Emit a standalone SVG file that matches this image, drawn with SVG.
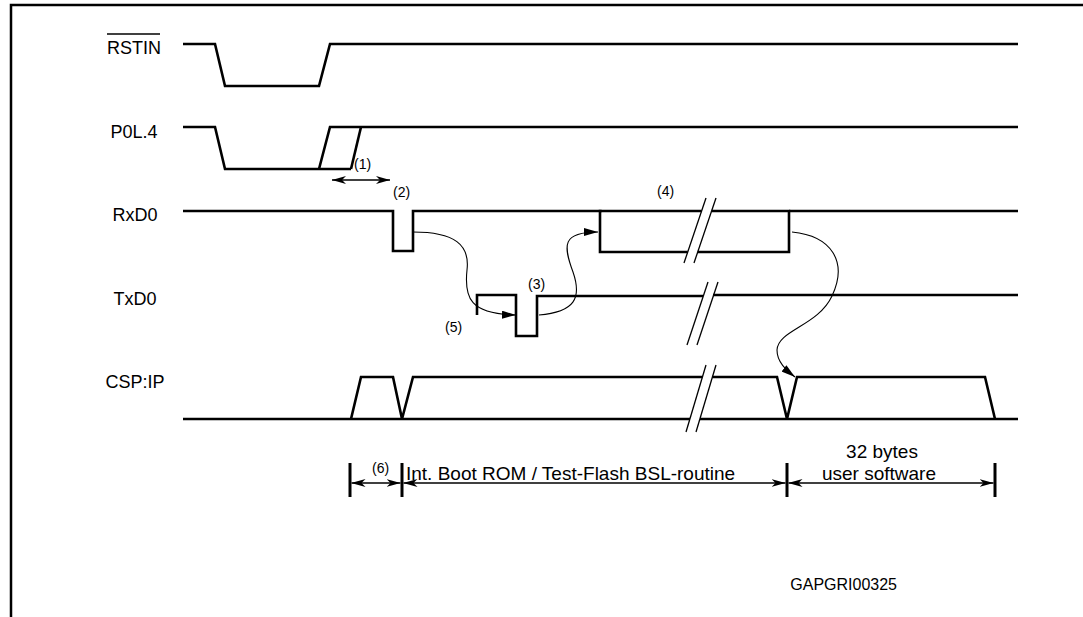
<svg xmlns="http://www.w3.org/2000/svg" width="1083" height="617" viewBox="0 0 1083 617">
<style>
.tr{fill:none;stroke:#000;stroke-width:2.6;stroke-linejoin:miter}
.sl{fill:none;stroke:#000;stroke-width:1.3}
.cv{fill:none;stroke:#000;stroke-width:1.1}
.dim{fill:none;stroke:#000;stroke-width:1.6}
.bar{stroke:#000;stroke-width:3}
.lbl{font-family:"Liberation Sans",Arial,sans-serif;font-size:18px;text-anchor:middle;fill:#000}
.sm{font-family:"Liberation Sans",Arial,sans-serif;font-size:14px;fill:#000}
.md{font-family:"Liberation Sans",Arial,sans-serif;font-size:19px;fill:#000}
</style>
<defs>
<marker id="ah" viewBox="0 0 14 8" refX="14" refY="4" markerWidth="14" markerHeight="8" markerUnits="userSpaceOnUse" orient="auto-start-reverse">
<path d="M0,0 L14,4 L0,8 L4,4 z" fill="#000"/>
</marker>
<marker id="ca" viewBox="0 0 14 8" refX="14" refY="4" markerWidth="14" markerHeight="8" markerUnits="userSpaceOnUse" orient="auto">
<path d="M0,0 L14,4 L0,8 z" fill="#000"/>
</marker>
</defs>
<rect width="1083" height="617" fill="#fff"/>
<path d="M11,617 V5 H1083" fill="none" stroke="#000" stroke-width="2.5"/>

<g id="RSTIN">
<text class="lbl" x="134" y="54">RSTIN</text>
<line x1="107" y1="34" x2="160" y2="34" stroke="#000" stroke-width="1.5"/>
<path class="tr" d="M183,44 H215 L225,86 H319 L330,44 H1018"/>
</g>

<g id="P0L4">
<text class="lbl" x="134" y="138">P0L.4</text>
<path class="tr" d="M183,127 H215 L225,169 H351"/>
<path class="tr" d="M319,169 L330,127 H1018"/>
<path class="tr" d="M351,169 L361,127"/>
<text class="sm" x="354" y="169">(1)</text>
</g>

<g id="RxD0">
<text class="lbl" x="135" y="221">RxD0</text>
<path class="tr" d="M183,211 H393 V251 H413 V211 H601.6"/>
<path class="tr" d="M701.6,211 H600 V252 H687.7"/>
<path class="tr" d="M711.6,211 H789 V252 H697.7"/>
<path class="tr" d="M789,211 H1018"/>
<line class="sl" x1="706" y1="198" x2="684" y2="263"/>
<line class="sl" x1="716" y1="198" x2="694" y2="263"/>
<text class="sm" x="393" y="197">(2)</text>
<text class="sm" x="657" y="196">(4)</text>
</g>

<g id="TxD0">
<text class="lbl" x="135" y="305">TxD0</text>
<path class="tr" d="M477,315 V295 H516 V336 H537 V296 H703"/>
<path class="tr" d="M713,295 H1018"/>
<line class="sl" x1="708" y1="282" x2="687" y2="345"/>
<line class="sl" x1="718" y1="282" x2="697" y2="345"/>
<text class="sm" x="528" y="289">(3)</text>
<text class="sm" x="445" y="332">(5)</text>
</g>

<g id="CSPIP">
<text class="lbl" x="135" y="388">CSP:IP</text>
<path class="tr" d="M183,419 H690"/>
<path class="tr" d="M700,419 H1018"/>
<path class="tr" d="M351,419 L361,377 H393 L402,419 L413,377 H702.4"/>
<path class="tr" d="M712.4,377 H777 L787,419 L797,377 H985 L995,419"/>
<line class="sl" x1="706" y1="365" x2="686" y2="432"/>
<line class="sl" x1="716" y1="365" x2="696" y2="432"/>
</g>

<g id="connectors">
<path class="cv" marker-end="url(#ca)" d="M413,232 C455,232 470,245 467,270 C464,298 470,314 516,315"/>
<path class="cv" marker-end="url(#ca)" d="M539,315 C575,312 582,298 573,272 C563,245 562,232 598,232"/>
<path class="cv" marker-end="url(#ca)" d="M792,232 C832,236 848,262 832,296 C818,326 778,330 777,350 C777,362 786,370 795,377"/>
<path class="dim" marker-start="url(#ah)" marker-end="url(#ah)" d="M332,180 H390"/>
</g>

<g id="timing">
<line class="bar" x1="350" y1="463" x2="350" y2="497"/>
<line class="bar" x1="402" y1="463" x2="402" y2="497"/>
<line class="bar" x1="787" y1="463" x2="787" y2="497"/>
<line class="bar" x1="995" y1="463" x2="995" y2="497"/>
<path class="dim" marker-start="url(#ah)" marker-end="url(#ah)" d="M351.5,483 H400.5"/>
<path class="dim" marker-start="url(#ah)" marker-end="url(#ah)" d="M403.5,483 H785.5"/>
<path class="dim" marker-start="url(#ah)" marker-end="url(#ah)" d="M788.5,483 H993.5"/>
<text class="sm" x="372" y="473">(6)</text>
<text class="md" x="406" y="480">Int. Boot ROM / Test-Flash BSL-routine</text>
<text class="md" x="882" y="458" text-anchor="middle">32 bytes</text>
<text class="md" x="879" y="480" text-anchor="middle">user software</text>
<text class="sm" x="897" y="590" text-anchor="end" style="font-size:16px">GAPGRI00325</text>
</g>
</svg>
